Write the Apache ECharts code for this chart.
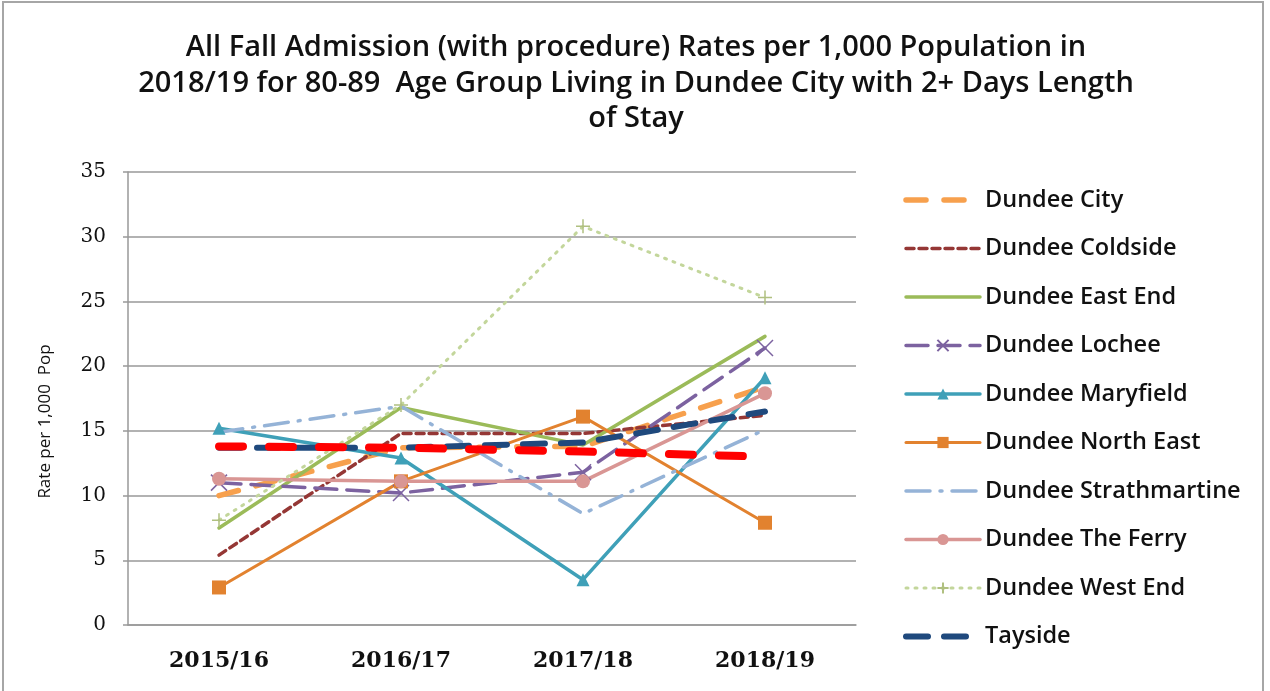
<!DOCTYPE html>
<html>
<head>
<meta charset="utf-8">
<script src="https://cdn.jsdelivr.net/npm/echarts@6/dist/echarts.min.js"></script>
<style>
  html, body { margin: 0; padding: 0; background: #fff; }
  #chart { width: 1270px; height: 691px; }
</style>
</head>
<body>
<div id="chart"></div>
<script>
// categories + values
const years = ["2015/16", "2016/17", "2017/18", "2018/19"];

const dundeeCity = [10.0, 13.7, 13.8, 18.4];
const coldside = [5.4, 14.8, 14.8, 16.2];
const eastEnd = [7.5, 16.8, 13.9, 22.3];
const lochee = [11.0, 10.2, 11.8, 21.4];
const maryfield = [15.2, 12.9, 3.5, 19.1];
const northEast = [2.9, 11.1, 16.1, 7.9];
const strathmartine = [14.9, 16.9, 8.6, 15.1];
const theFerry = [11.3, 11.1, 11.1, 17.9];
const westEnd = [8.1, 17.0, 30.8, 25.3];
const tayside = [13.7, 13.7, 14.1, 16.5];
// red dashed line, not listed in the legend
const unlisted = [13.8, 13.7, 13.4, 13.0];

const yTicks = { min: 0, max: 35, interval: 5 };

const legendNames = [
  "Dundee City", "Dundee Coldside", "Dundee East End", "Dundee Lochee",
  "Dundee Maryfield", "Dundee North East", "Dundee Strathmartine",
  "Dundee The Ferry", "Dundee West End", "Tayside",
];

const crossPath = "path://M0,0L10,10M10,0L0,10";
const plusPath = "path://M5,0L5,10M0,5L10,5";

const chart = echarts.init(document.getElementById("chart"));

// helper for a plain line series: no markers, and a see-through item colour
// so the legend icon is just the line
const line = (name, data, color, width, type, extra) =>
  Object.assign(
    {
      name,
      type: "line",
      data,
      symbol: "circle",
      showSymbol: false,
      lineStyle: { color, width, type, cap: "round" },
      itemStyle: { color: "rgba(0,0,0,0)", borderWidth: 0 },
      emphasis: { disabled: true },
    },
    extra || {}
  );

chart.setOption({
  animation: false,
  backgroundColor: "#fff",
  title: {
    text: "All Fall Admission (with procedure) Rates per 1,000 Population in\n2018/19 for 80-89  Age Group Living in Dundee City with 2+ Days Length\nof Stay",
    left: 631,
    textAlign: "center",
    top: 25,
    textStyle: {
      fontFamily: "Open Sans",
      fontSize: 29,
      fontWeight: 600,
      color: "#111",
      lineHeight: 35.5,
    },
  },
  graphic: [
    {
      type: "rect",
      shape: { x: 3, y: 2, width: 1260, height: 700 },
      style: { fill: "none", stroke: "#a6a6a6", lineWidth: 2 },
      silent: true,
    },
  ],
  legend: {
    data: legendNames,
    orient: "vertical",
    left: 898,
    top: 183,
    itemWidth: 74,
    itemHeight: 14,
    itemGap: 24.5,
    lineStyle: { width: "inherit" },
    textStyle: {
      fontFamily: "Open Sans",
      fontSize: 23.5,
      fontWeight: 600,
      color: "#111",
    },
  },
  grid: { left: 128, right: 414, top: 172, bottom: 66 },
  xAxis: {
    type: "category",
    data: years,
    axisLine: { lineStyle: { color: "#999", width: 1.5 } },
    axisTick: { length: 9, lineStyle: { color: "#999", width: 1.5 } },
    axisLabel: {
      margin: 25,
      fontFamily: "DejaVu Serif",
      fontWeight: "bold",
      fontSize: 22,
      color: "#111",
    },
  },
  yAxis: {
    type: "value",
    min: yTicks.min,
    max: yTicks.max,
    interval: yTicks.interval,
    name: "Rate per 1,000  Pop",
    nameLocation: "middle",
    nameGap: 74,
    nameTextStyle: {
      fontFamily: "Open Sans",
      fontSize: 17,
      color: "#111",
      padding: [0, 46, 0, 0],
    },
    axisLine: { show: true, lineStyle: { color: "#999", width: 1.5 } },
    axisTick: { show: true, length: 5, lineStyle: { color: "#999", width: 1.5 } },
    axisLabel: {
      margin: 22,
      fontFamily: "DejaVu Serif",
      fontSize: 20,
      color: "#111",
    },
    splitLine: { lineStyle: { color: "#999", width: 1.5 } },
  },
  series: [
    line("Dundee City", dundeeCity, "#f7a04d", 5.5, [20, 18]),
    line("Dundee Coldside", coldside, "#953735", 3.5, [8, 5]),
    line("Dundee East End", eastEnd, "#9bbb59", 3.5, "solid"),
    line("Dundee Lochee", lochee, "#7c62a0", 3.5, [22, 10], {
      symbol: crossPath,
      showSymbol: true,
      symbolSize: 16,
      itemStyle: { color: "none", borderColor: "#7c62a0", borderWidth: 1.5 },
    }),
    line("Dundee Maryfield", maryfield, "#3fa0b8", 3.5, "solid", {
      symbol: "triangle",
      showSymbol: true,
      symbolSize: 13,
      itemStyle: { color: "#3fa0b8" },
    }),
    line("Dundee North East", northEast, "#e2822f", 3, "solid", {
      symbol: "rect",
      showSymbol: true,
      symbolSize: 14,
      itemStyle: { color: "#e2822f" },
    }),
    line("Dundee Strathmartine", strathmartine, "#95b3d7", 3.5, [24, 10, 2, 10]),
    line("Dundee The Ferry", theFerry, "#d99694", 3.5, "solid", {
      symbol: "circle",
      showSymbol: true,
      symbolSize: 14,
      itemStyle: { color: "#d99694" },
    }),
    line("Dundee West End", westEnd, "#c3d69b", 3, [2, 7], {
      symbol: plusPath,
      showSymbol: true,
      symbolSize: 14,
      itemStyle: { color: "none", borderColor: "#b0c080", borderWidth: 1.5 },
    }),
    line("Tayside", tayside, "#1f497d", 6, [22, 16]),
    line("Scotland", unlisted, "#ff0000", 8, [24, 26]),
  ],
});
</script>
</body>
</html>
